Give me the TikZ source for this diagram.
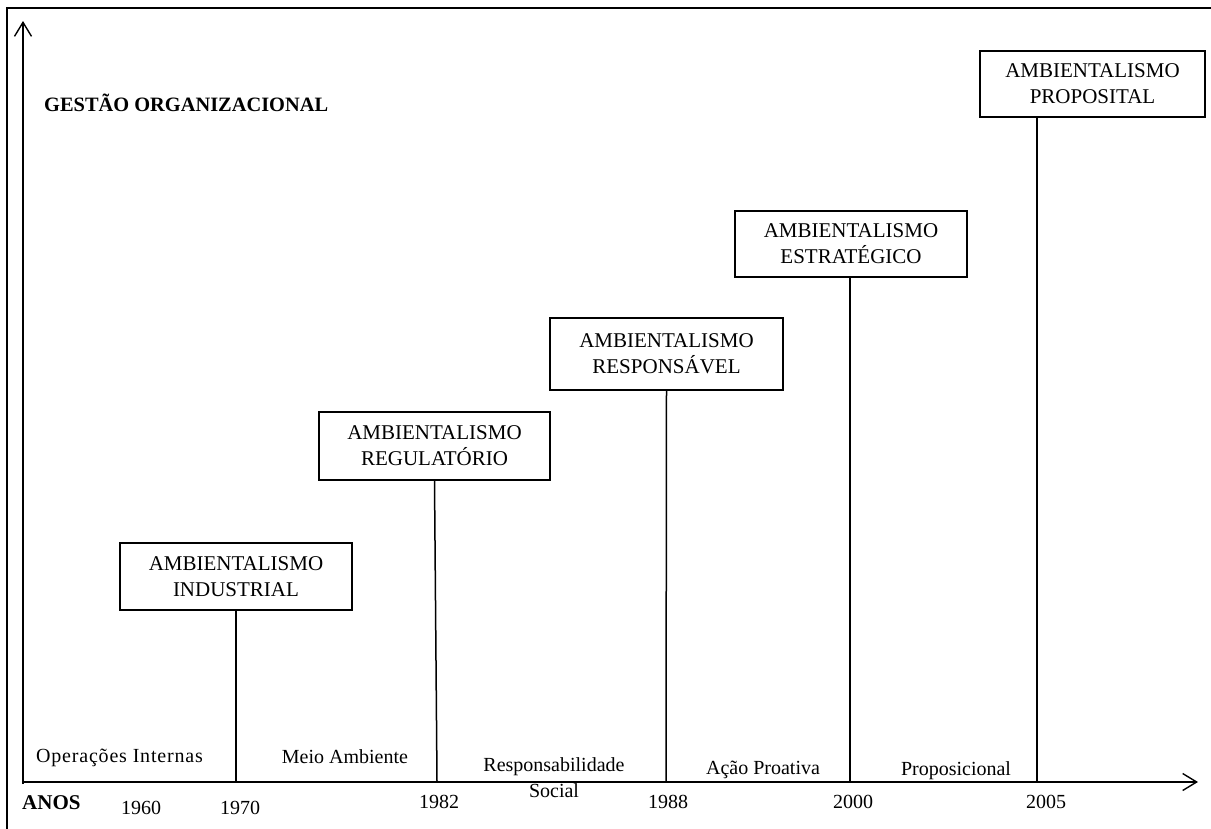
\documentclass[tikz,border=0pt]{standalone}
\usepackage{fontspec}
\setmainfont{Liberation Serif}
\usetikzlibrary{arrows.meta}
\begin{document}
\begin{tikzpicture}[x=1pt,y=-1pt,
  txt/.style={font=\fontsize{20}{25.5}\selectfont, inner sep=0pt, align=center},
  ebox/.style={draw, line width=1.6pt, minimum width=232pt, minimum height=67pt,
    font=\fontsize{21}{26}\selectfont, align=center, inner sep=0pt},
  stem/.style={line width=1.5pt},
  axis/.style={line width=2.2pt, -{Straight Barb[length=14pt,width=17pt,line width=1.4pt]}},
  btxt/.style={font=\fontsize{20.4}{24}\bfseries\selectfont, inner sep=0pt}]
\useasboundingbox (0,0) rectangle (1211,828);
\fill[white] (0,0) rectangle (1211,828);

% page frame
\draw[line width=1.4pt] (7,830) -- (7,8) -- (1215,8);

% axes
\coordinate (o) at (22,782);
\coordinate (xend) at (1198,782);
\coordinate (ybase) at (23,784);
\coordinate (yend) at (23,21);
\draw[axis] (o) -- (xend);
\draw[axis] (ybase) -- (yend);

% points on the time axis
\coordinate (t1970) at (236,782);
\coordinate (t1982) at (437,781);
\coordinate (t1988) at (666,782);
\coordinate (t2000) at (850,782);
\coordinate (t2005) at (1037,782);

% stages
\node[ebox] (b1) at (236,576.5) {AMBIENTALISMO\\INDUSTRIAL};
\node[ebox, minimum width=231pt, minimum height=68pt] (b2) at (434.5,446) {AMBIENTALISMO\\REGULATÓRIO};
\node[ebox, minimum width=233pt, minimum height=72pt] (b3) at (666.5,354) {AMBIENTALISMO\\RESPONSÁVEL};
\node[ebox, minimum height=66pt] (b4) at (851,244) {AMBIENTALISMO\\ESTRATÉGICO};
\node[ebox, minimum width=225pt, minimum height=66pt] (b5) at (1092.5,84) {AMBIENTALISMO\\PROPOSITAL};

\draw[stem] (b1.south) -- (t1970);
\draw[stem] (b2.south) -- (t1982);
\draw[stem] (b3.south) -- (t1988);
\draw[stem] (b4.south -| t2000) -- (t2000);
\draw[stem] (b5.south -| t2005) -- (t2005);

% axis titles
\node[btxt, anchor=west] (gest) at (44,103) {GESTÃO ORGANIZACIONAL};
\node[btxt, anchor=west, font=\fontsize{21}{24}\bfseries\selectfont] (anos) at (22,803) {ANOS};

% periods
\node[txt] (p1) at (119.5,758) {\addfontfeature{LetterSpace=4}Operações Internas};
\node[txt] (p2) at (345,757) {Meio Ambiente};
\node[txt] (p3) at (554,777.5) {Responsabilidade\\Social};
\node[txt] (p4) at (763,770) {Ação Proativa};
\node[txt] (p5) at (956,771) {Proposicional};

% years
\node[txt] (y1960) at (141,808) {1960};
\node[txt] (y1970) at (240,808) {1970};
\node[txt] (y1982) at (439,802) {1982};
\node[txt] (y1988) at (668,802) {1988};
\node[txt] (y2000) at (853,802) {2000};
\node[txt] (y2005) at (1046,802) {2005};
\end{tikzpicture}
\end{document}
